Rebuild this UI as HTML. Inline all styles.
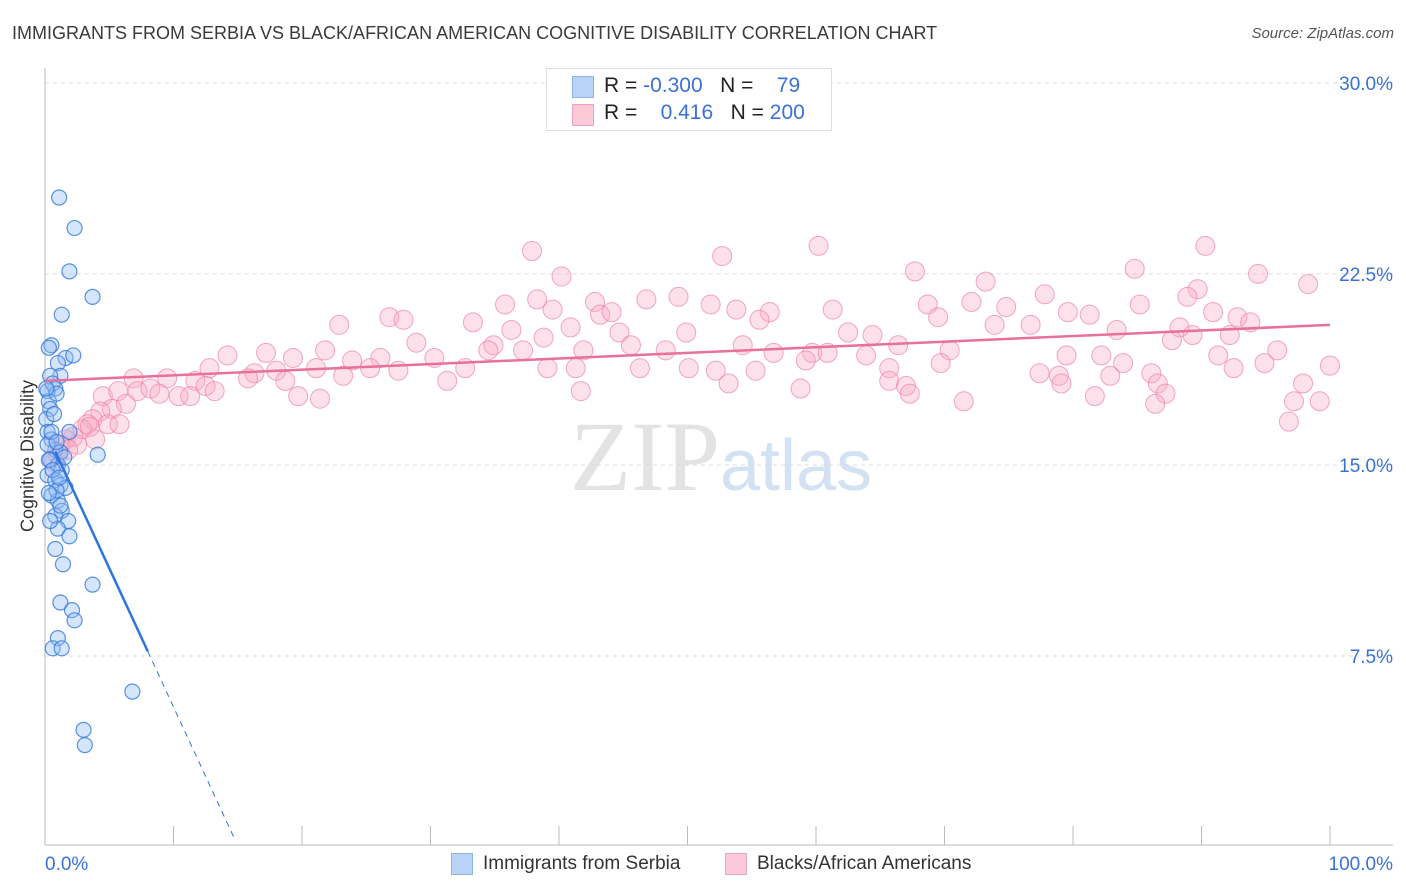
<!DOCTYPE html>
<html><head><meta charset="utf-8">
<style>
body{margin:0;background:#fff;font-family:"Liberation Sans",sans-serif;}
#wrap{position:relative;width:1406px;height:892px;overflow:hidden;}
.t{position:absolute;white-space:nowrap;}
</style></head>
<body>
<div id="wrap">
<div class="t" style="left:12px;top:23px;font-size:18px;color:#3a3a3a;">IMMIGRANTS FROM SERBIA VS BLACK/AFRICAN AMERICAN COGNITIVE DISABILITY CORRELATION CHART</div>
<div class="t" style="right:12px;top:25px;font-size:15px;color:#555;font-style:italic;">Source: ZipAtlas.com</div>
<svg id="chart" width="1406" height="892" style="position:absolute;left:0;top:0">
<text x="720" y="490" text-anchor="end" font-family="Liberation Serif,serif" font-size="100" fill="#e3e3e3">ZIP</text>
<text x="720" y="490" font-family="Liberation Sans,sans-serif" font-size="72" fill="#d3e2f2">atlas</text>
</svg>
<div class="t" style="left:28px;top:456px;transform:translate(-50%,-50%) rotate(-90deg);font-size:18px;color:#333;">Cognitive Disability</div>
<div style="position:absolute;left:546px;top:68px;width:284px;height:61px;border:1px solid #ddd;background:#fff;">
  <div style="position:absolute;left:25px;top:7px;width:20px;height:20px;background:#b9d3f6;border:1px solid #8fb3e8;"></div>
  <div style="position:absolute;left:25px;top:35px;width:20px;height:20px;background:#fcc9d8;border:1px solid #f1a2ba;"></div>
  <div class="t" style="left:57px;top:5px;font-size:21px;color:#222;">R = <span style="color:#3a72d4">-0.300</span>&nbsp;&nbsp;&nbsp;N = &nbsp;&nbsp;&nbsp;<span style="color:#3a72d4">79</span></div>
  <div class="t" style="left:57px;top:32px;font-size:21px;color:#222;">R = &nbsp;&nbsp;&nbsp;<span style="color:#3a72d4">0.416</span>&nbsp;&nbsp;&nbsp;N = <span style="color:#3a72d4">200</span></div>
</div>
<div style="position:absolute;left:451px;top:853px;">
  <div style="position:absolute;left:0;top:0;width:20px;height:20px;background:#b9d3f6;border:1px solid #8fb3e8;"></div>
  <div class="t" style="left:32px;top:0;font-size:19px;color:#333;">Immigrants from Serbia</div>
</div>
<div style="position:absolute;left:725px;top:853px;">
  <div style="position:absolute;left:0;top:0;width:20px;height:20px;background:#fcc9d8;border:1px solid #f1a2ba;"></div>
  <div class="t" style="left:32px;top:0;font-size:19px;color:#333;">Blacks/African Americans</div>
</div>
</div>
<script>
const yTicks=[7.5,15,22.5,30];
const yTickLabels=["7.5%","15.0%","22.5%","30.0%"];
const xTicks=[0,10,20,30,40,50,60,70,80,90,100];
const xEndLabels=["0.0%","100.0%"];
const serbiaX=[1.1,2.3,1.9,3.7,1.3,0.5,1.6,2.2,1.0,1.2,0.4,0.8,0.2,0.3,0.4,0.1,0.2,1.9,4.1,0.5,0.8,1.2,0.4,1.0,1.3,0.2,0.8,1.2,1.6,0.5,1.0,1.3,0.8,1.8,1.0,1.9,0.8,1.4,3.7,1.2,2.1,2.3,1.0,0.6,1.3,6.8,3.0,3.1,0.3,0.2,0.6,0.9,1.2,0.4,0.6,0.9,0.3,0.5,1.5,0.1,0.7,1.1,0.3,0.9];
const serbiaY=[25.5,24.3,22.6,21.6,20.9,19.7,19.2,19.3,19.0,18.5,18.5,18.0,17.9,17.5,17.2,16.8,16.3,16.3,15.4,16.0,15.6,15.5,15.2,15.0,14.8,14.6,14.4,14.2,14.1,13.8,13.6,13.2,13.0,12.8,12.5,12.2,11.7,11.1,10.3,9.6,9.3,8.9,8.2,7.8,7.8,6.1,4.6,4.0,15.2,15.8,14.8,14.0,13.4,12.8,18.2,17.8,19.6,16.3,15.3,18.0,17.0,14.5,13.9,15.9];
const blackX=[37.9,40.2,52.7,60.2,90.3,67.7,73.2,84.8,94.4,98.3,89.7,77.8,88.9,35.8,38.3,42.8,46.8,49.3,51.8,39.5,43.2,44.1,53.8,56.4,61.3,68.7,72.1,74.8,79.6,81.3,85.2,90.9,92.8,93.8,26.8,27.9,33.3,22.9,36.3,40.9,44.7,49.9,55.6,62.5,64.4,69.5,73.9,76.7,83.4,88.3,89.3,92.2,95.9,38.8,34.9,28.9,21.8,17.2,14.2,19.3,23.9,26.1,30.3,34.5,37.2,41.9,45.6,48.3,54.3,56.7,59.7,60.9,63.9,66.4,70.4,79.5,82.2,83.9,87.7,91.3,94.9,100,12.8,16.3,18.0,21.1,23.2,25.3,27.5,32.7,39.1,41.3,46.3,50.1,52.2,55.3,59.2,65.7,69.7,77.4,78.9,82.9,86.1,92.5,6.9,9.5,11.7,15.8,18.7,31.3,41.7,53.2,58.8,65.7,67.0,67.3,71.5,79.1,81.7,86.6,87.2,86.4,97.9,99.2,97.2,96.8,4.5,5.7,7.2,8.2,8.9,10.4,11.3,12.5,13.2,19.7,21.4,6.3,5.2,4.3,3.7,3.3,4.9,2.9,2.2,1.6,1.2,2.5,1.8,1.0,0.7,3.5,3.9,5.8];
const blackY=[23.4,22.4,23.2,23.6,23.6,22.6,22.2,22.7,22.5,22.1,21.9,21.7,21.6,21.3,21.5,21.4,21.5,21.6,21.3,21.1,20.9,21.0,21.1,21.0,21.1,21.3,21.4,21.2,21.0,20.9,21.3,21.0,20.8,20.6,20.8,20.7,20.6,20.5,20.3,20.4,20.2,20.2,20.7,20.2,20.1,20.8,20.5,20.5,20.3,20.4,20.1,20.1,19.5,20.0,19.7,19.8,19.5,19.4,19.3,19.2,19.1,19.2,19.2,19.5,19.5,19.5,19.7,19.5,19.7,19.4,19.4,19.4,19.3,19.7,19.5,19.3,19.3,19.0,19.9,19.3,19.0,18.9,18.8,18.6,18.7,18.8,18.5,18.8,18.7,18.8,18.8,18.8,18.8,18.8,18.7,18.7,19.1,18.8,19.0,18.6,18.5,18.5,18.6,18.8,18.4,18.4,18.3,18.4,18.3,18.3,17.9,18.2,18.0,18.3,18.1,17.8,17.5,18.2,17.7,18.2,17.8,17.4,18.2,17.5,17.5,16.7,17.7,17.9,17.9,18.0,17.8,17.7,17.7,18.1,17.9,17.7,17.6,17.4,17.2,17.1,16.8,16.6,16.6,16.4,16.1,16.0,15.8,15.8,15.6,15.4,15.1,16.5,16.0,16.6];
const serbiaTrend=[16.4,-1.09];   // intercept, slope (value units)
const blackTrend=[18.3,0.022];

const X0=45,X1=1330,Y0=847,YPX=25.47;
const sx=v=>X0+v*(X1-X0)/100;
const sy=v=>Y0-v*YPX;
const svg=document.getElementById('chart');
const NS='http://www.w3.org/2000/svg';
function mk(tag,attrs){const e=document.createElementNS(NS,tag);for(const k in attrs)e.setAttribute(k,attrs[k]);svg.appendChild(e);return e;}

// grid + y labels
yTicks.forEach((t,i)=>{
  const g=mk('line',{x1:X0,x2:1393,y1:sy(t),y2:sy(t),stroke:'#dcdcdc','stroke-dasharray':'4 4'});
  
  
  const l=mk('text',{x:1393,y:sy(t)+7,'text-anchor':'end','font-size':19,fill:'#3a72d4','font-family':'Liberation Sans,sans-serif'});
  l.textContent=yTickLabels[i];
  
  
});
// axes
const ax=mk('line',{x1:X0,x2:1393,y1:845,y2:845,stroke:'#bbb'});


const ay=mk('line',{x1:X0,x2:X0,y1:68,y2:845,stroke:'#bbb'});


xTicks.forEach(t=>{
  const k=mk('line',{x1:sx(t),x2:sx(t),y1:826,y2:845,stroke:'#bbb'});
  
  
});
const xl0=mk('text',{x:45,y:870,'font-size':19,fill:'#3a72d4','font-family':'Liberation Sans,sans-serif'});
xl0.textContent=xEndLabels[0];


const xl1=mk('text',{x:1393,y:870,'text-anchor':'end','font-size':19,fill:'#3a72d4','font-family':'Liberation Sans,sans-serif'});
xl1.textContent=xEndLabels[1];



// points
blackX.forEach((x,i)=>{
  const c=mk('circle',{cx:sx(x),cy:sy(blackY[i]),r:9.5,fill:'rgba(248,170,196,0.35)',stroke:'rgba(236,130,165,0.7)','stroke-width':1});
  
  
});
serbiaX.forEach((x,i)=>{
  const c=mk('circle',{cx:sx(x),cy:sy(serbiaY[i]),r:7.5,fill:'rgba(150,190,245,0.4)',stroke:'rgba(50,120,220,0.8)','stroke-width':1.2});
  
  
});
// trends
const bt=mk('line',{x1:sx(0),y1:sy(blackTrend[0]),x2:sx(100),y2:sy(blackTrend[0]+blackTrend[1]*100),stroke:'#e8709a','stroke-width':2.5});


const xs=8,xe=14.8;
const st=mk('line',{x1:sx(0.8),y1:sy(serbiaTrend[0]+serbiaTrend[1]*0.8),x2:sx(xs),y2:sy(serbiaTrend[0]+serbiaTrend[1]*xs),stroke:'#2f74dd','stroke-width':2.5});


const sd=mk('line',{x1:sx(xs),y1:sy(serbiaTrend[0]+serbiaTrend[1]*xs),x2:sx(xe),y2:sy(serbiaTrend[0]+serbiaTrend[1]*xe),stroke:'#2f74dd','stroke-width':1,'stroke-dasharray':'6 5'});


</script>
</body></html>
